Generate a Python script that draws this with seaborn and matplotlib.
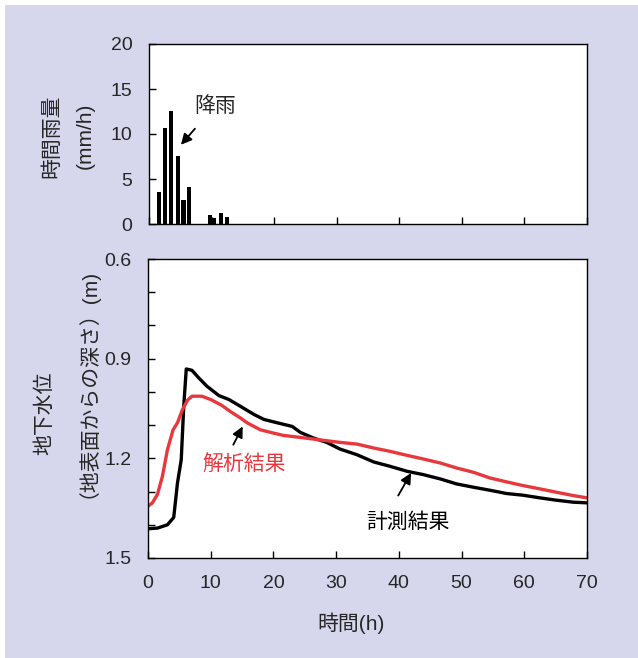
import numpy as np
import pandas as pd
import seaborn as sns
import matplotlib.pyplot as plt
from matplotlib.patches import Rectangle

# 降雨データ (時間, mm/h)
rain_t = [1.6, 2.6, 3.5, 4.6, 5.5, 6.4, 9.8, 10.3, 11.5, 12.5]
rain_v = [3.6, 10.7, 12.6, 7.6, 2.7, 4.1, 1.0, 0.7, 1.2, 0.75]

# 計測結果 (時間, 地下水位 m)
meas_t = [0, 1.5, 3.1, 4.1, 4.7, 5.3, 5.7, 6.1, 7.0, 8.1, 9.4, 11.3, 12.9, 14.7, 16.9,
          18.5, 20.6, 23.0, 24.3, 26.4, 28.5, 30.6, 33.3, 36.0, 38.6, 41.3, 43.9,
          46.6, 49.2, 51.9, 54.5, 57.2, 59.8, 62.5, 65.1, 67.8, 70]
meas_v = [1.412, 1.410, 1.400, 1.378, 1.274, 1.204, 1.043, 0.931, 0.935, 0.958, 0.983,
          1.011, 1.023, 1.043, 1.068, 1.083, 1.093, 1.104, 1.122, 1.139, 1.152, 1.172,
          1.189, 1.211, 1.224, 1.239, 1.249, 1.262, 1.277, 1.287, 1.296, 1.306, 1.311,
          1.319, 1.326, 1.332, 1.334]

# 解析結果
calc_t = [0, 0.7, 1.5, 2.3, 3.1, 4.0, 4.7, 5.5, 6.3, 7.0, 8.6, 10.0, 11.8, 13.2, 14.7,
          15.8, 17.9, 20.0, 21.6, 23.8, 26.4, 28.5, 30.6, 33.3, 36.0, 38.6, 41.3,
          43.9, 46.6, 49.2, 51.9, 54.5, 57.2, 59.8, 62.5, 65.1, 67.8, 70]
calc_v = [1.344, 1.334, 1.309, 1.254, 1.174, 1.114, 1.093, 1.053, 1.025, 1.013, 1.013,
          1.023, 1.041, 1.060, 1.078, 1.093, 1.114, 1.124, 1.131, 1.136, 1.142, 1.147,
          1.152, 1.157, 1.169, 1.179, 1.191, 1.202, 1.214, 1.229, 1.242, 1.259, 1.271,
          1.282, 1.292, 1.302, 1.312, 1.319]

sns.set_style("ticks")
plt.rcParams['font.family'] = ['Liberation Sans', 'Noto Sans CJK JP', 'DejaVu Sans']

bg = '#d6d7ec'
fig = plt.figure(figsize=(6.38, 6.58), dpi=100, facecolor='white')
fig.patches.append(Rectangle((5 / 638, 0), 1, 1 - 5 / 658, transform=fig.transFigure,
                             facecolor=bg, edgecolor='none', zorder=-1))

ax1 = fig.add_axes([149 / 638, 1 - 224 / 658, 438 / 638, 180 / 658])
ax2 = fig.add_axes([148 / 638, 1 - 558 / 658, 439 / 638, 299 / 658])

# 上段: 時間雨量
ax1.bar(rain_t, rain_v, width=0.68, color='black', linewidth=0)
ax1.set_xlim(0, 70)
ax1.set_ylim(0, 20)
ax1.set_xticks(range(0, 71, 10))
ax1.set_xticklabels([])
ax1.set_yticks(range(0, 21, 5))
ax1.annotate('降雨', xy=(5.1, 8.8), xytext=(10.5, 13.1), fontsize=15,
             ha='center', va='center',
             arrowprops=dict(arrowstyle='-|>', color='black', lw=1.3,
                             mutation_scale=16, shrinkA=9, shrinkB=0))

# 下段: 地下水位
df = pd.concat([
    pd.DataFrame({'t': meas_t, 'v': meas_v, 'kind': '計測結果'}),
    pd.DataFrame({'t': calc_t, 'v': calc_v, 'kind': '解析結果'}),
])
sns.lineplot(data=df, x='t', y='v', hue='kind', ax=ax2, legend=False,
             palette={'計測結果': 'black', '解析結果': '#e8383d'}, linewidth=2.4)
ax2.set_xlim(0, 70)
ax2.set_ylim(1.5, 0.6)
ax2.set_xticks(range(0, 71, 10))
ax2.set_yticks([0.6, 0.9, 1.2, 1.5])
ax2.set_yticks(np.arange(0.7, 1.45, 0.1), minor=True)
ax2.set_yticklabels(['0.6', '0.9', '1.2', '1.5'])
ax2.set_xlabel('')
ax2.set_ylabel('')

ax2.annotate('', xy=(15.1, 1.104), xytext=(13.6, 1.159),
             arrowprops=dict(arrowstyle='-|>', color='black', lw=1.3,
                             mutation_scale=16, shrinkA=0, shrinkB=0))
ax2.text(15.3, 1.216, '解析結果', color='#e8383d', fontsize=15, ha='center', va='center')
ax2.annotate('', xy=(41.95, 1.244), xytext=(39.9, 1.312),
             arrowprops=dict(arrowstyle='-|>', color='black', lw=1.3,
                             mutation_scale=16, shrinkA=0, shrinkB=0))
ax2.text(41.4, 1.391, '計測結果', color='black', fontsize=15, ha='center', va='center')

for ax in (ax1, ax2):
    ax.set_facecolor('white')
    for s in ax.spines.values():
        s.set_visible(True)
        s.set_linewidth(1.0)
        s.set_color('black')
    ax.tick_params(which='both', direction='in', length=5, width=1.0, color='black',
                   labelsize=14, pad=12)

# 軸ラベル
fig.text(52 / 638, 1 - 136 / 658, '時間雨量', rotation=90, fontsize=15, ha='center', va='center')
fig.text(85 / 638, 1 - 136 / 658, '(mm/h)', rotation=90, fontsize=15, ha='center', va='center')
fig.text(45 / 638, 1 - 413 / 658, '地下水位', rotation=90, fontsize=15, ha='center', va='center')
fig.text(77 / 638, 1 - 378 / 658, '（地表面からの深さ）(m)', rotation=90, fontsize=15,
         ha='center', va='center')
fig.text(351 / 638, 1 - 623 / 658, '時間(h)', fontsize=15, ha='center', va='center')

fig.savefig('out.png', dpi=100, facecolor=fig.get_facecolor())
